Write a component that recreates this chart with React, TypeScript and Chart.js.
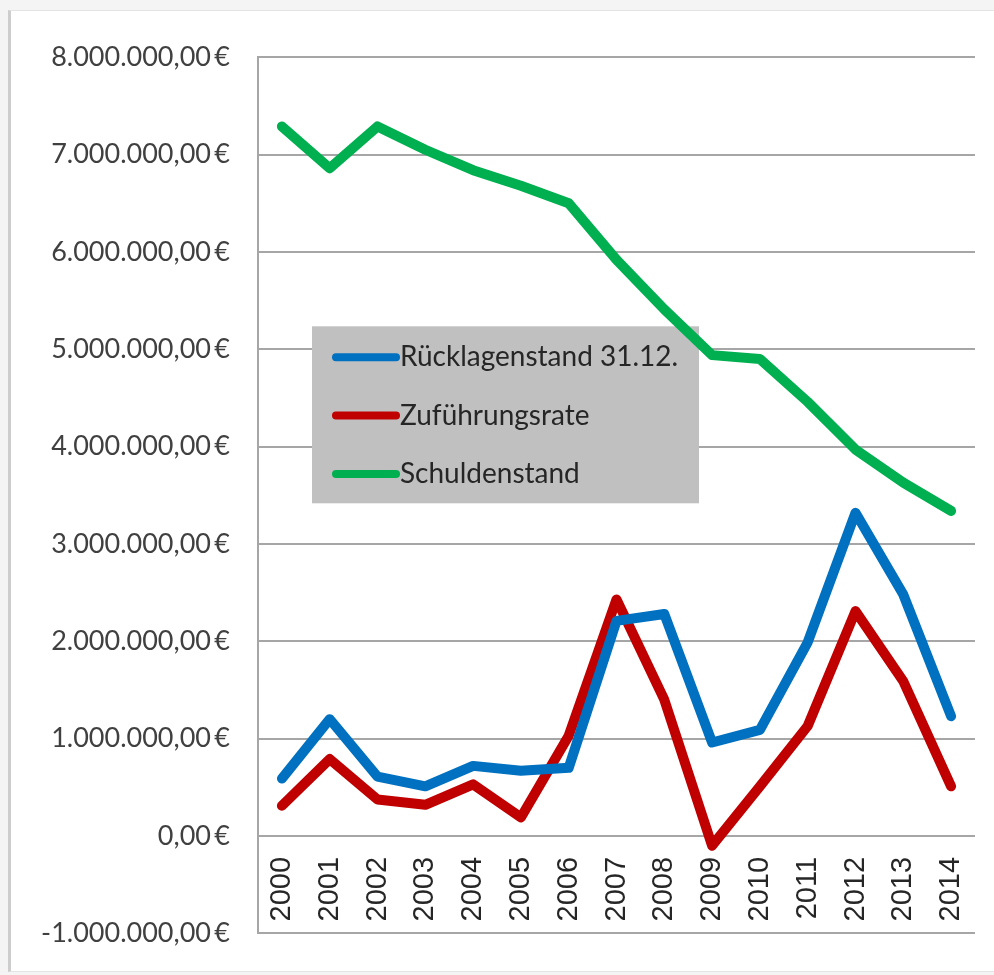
import React, { useEffect, useRef } from "react";
import { Chart, registerables } from "chart.js";

Chart.register(...registerables);

const years = ["2000","2001","2002","2003","2004","2005","2006","2007","2008","2009","2010","2011","2012","2013","2014"];
const ruecklagen = [590000,1200000,610000,510000,720000,670000,700000,2210000,2280000,960000,1090000,1990000,3320000,2480000,1230000];
const zufuehrung = [310000,790000,375000,320000,530000,190000,1030000,2430000,1400000,-100000,510000,1130000,2310000,1590000,510000];
const schulden = [7290000,6860000,7290000,7050000,6840000,6680000,6500000,5920000,5410000,4940000,4900000,4460000,3970000,3630000,3340000];
const seriesLabels = ["Rücklagenstand 31.12.", "Zuführungsrate", "Schuldenstand"];
const seriesColors = ["#0070C0", "#C00000", "#00B050"];

function formatEuro(v: number): string {
  const neg = v < 0;
  const abs = Math.abs(Math.round(v));
  const s = String(abs).replace(/\B(?=(\d{3})+(?!\d))/g, ".");
  return (neg ? "-" : "") + s + ",00\u2009€";
}

const legendPlugin = {
  id: "insideLegend",
  beforeDatasetsDraw(chart: any) {
    const { ctx, chartArea } = chart;
    const bx = chartArea.left + 54;
    const by = chartArea.top + 269;
    const bw = 387;
    const bh = 177;
    ctx.save();
    ctx.fillStyle = "#c0c0c0";
    ctx.fillRect(bx, by, bw, bh);
    ctx.font = "28px Lato";
    ctx.textBaseline = "middle";
    ctx.textAlign = "left";
    chart.data.datasets.forEach((ds: any, i: number) => {
      const cy = by + 31 + i * 58.3;
      ctx.strokeStyle = ds.borderColor;
      ctx.lineWidth = 8;
      ctx.lineCap = "round";
      ctx.beginPath();
      ctx.moveTo(bx + 24, cy);
      ctx.lineTo(bx + 84, cy);
      ctx.stroke();
      ctx.fillStyle = "#262626";
      ctx.fillText(ds.label, bx + 88, cy);
    });
    ctx.restore();
  },
};

function zeroPad(scale: any) {
  scale.paddingLeft = 0;
  scale.paddingRight = 0;
  scale.paddingTop = 0;
  scale.paddingBottom = 0;
}

export default function App() {
  const ref = useRef<HTMLCanvasElement | null>(null);
  useEffect(() => {
    if (!ref.current) return;
    const chart = new Chart(ref.current, {
      type: "line",
      data: {
        labels: years,
        datasets: [ruecklagen, zufuehrung, schulden].map((d, i) => ({
          label: seriesLabels[i],
          data: d,
          borderColor: seriesColors[i],
          backgroundColor: seriesColors[i],
          borderWidth: 10,
          borderCapStyle: "round",
          borderJoinStyle: "round",
          pointRadius: 0,
          tension: 0,
          fill: false,
        })),
      },
      options: {
        responsive: false,
        animation: false,
        layout: { padding: { left: 0, top: 57.3, right: 19, bottom: 41.7 } },
        plugins: { legend: { display: false }, tooltip: { enabled: false } },
        scales: {
          x: {
            position: { y: 0 } as any,
            offset: true,
            afterFit: (scale: any) => { zeroPad(scale); },
            grid: { display: false, drawTicks: false },
            border: { display: false },
            ticks: {
              autoSkip: false,
              minRotation: 90,
              maxRotation: 90,
              padding: 21,
              color: "#262626",
              font: { family: "Liberation Sans", size: 29 },
            },
          },
          y: {
            min: -1000000,
            max: 8000000,
            afterFit: (scale: any) => { scale.width = 258; zeroPad(scale); },
            grid: { color: "#a6a6a6", lineWidth: 2, drawTicks: false },
            border: { display: true, color: "#a6a6a6", width: 2 },
            ticks: {
              stepSize: 1000000,
              padding: 28,
              color: "#404040",
              font: { family: "Lato", size: 27 },
              callback: (v: any) => formatEuro(Number(v)),
            },
          },
        },
      },
      plugins: [legendPlugin],
    } as any);
    return () => chart.destroy();
  }, []);

  return (
    <div style={{ position: "absolute", left: 0, top: 0, width: 994, height: 975, background: "#f4f4f4", overflow: "hidden" }}>
      <div style={{ position: "absolute", left: 8, top: 10, width: 1000, height: 960, background: "#ffffff", borderLeft: "3px solid #cdcdcd", borderTop: "1px solid #e4e4e4", borderBottom: "1px solid #e4e4e4" }} />
      <canvas ref={ref} width={994} height={975} style={{ position: "absolute", left: 0, top: 0, width: 994, height: 975 }} />
    </div>
  );
}
